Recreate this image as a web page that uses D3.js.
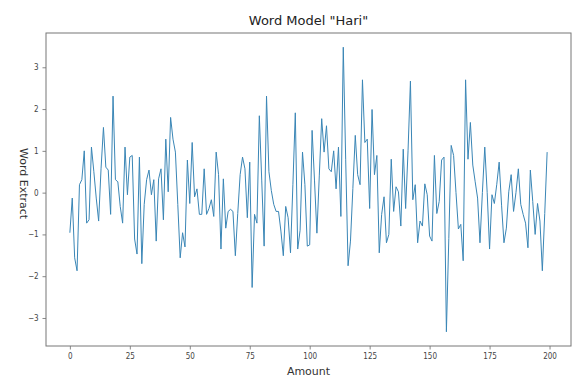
<!DOCTYPE html>
<html>
<head>
<meta charset="utf-8">
<script src="https://cdn.jsdelivr.net/npm/d3@7"></script>
<style>
  body { margin: 0; background: #fff; }
  svg { display: block; }
</style>
</head>
<body>
<div id="chart"></div>
<script>
// values, index 0..199
const values = [
  -0.96, -0.13, -1.56, -1.87, 0.19, 0.31, 1.0, -0.73, -0.65, 1.09,
  0.5, -0.13, -0.68, 0.57, 1.56, 0.61, 0.54, -0.52, 2.31, 0.31,
  0.26, -0.33, -0.73, 1.09, -0.05, 0.85, 0.89, -1.11, -1.47, 0.85,
  -1.7, -0.28, 0.31, 0.54, -0.05, 0.31, -1.16, 0.33, 0.57, -0.65,
  1.28, 0.02, 1.8, 1.28, 0.97, -0.28, -1.56, -0.96, -1.3, 0.78,
  -0.26, 1.2, -0.1, 0.09, -0.52, -0.52, 0.57, -0.52, -0.38, -0.17,
  -0.57, 0.97, 0.43, -1.35, 0.33, -0.85, -0.45, -0.4, -0.45, -1.51,
  -0.5, 0.43, 0.85, 0.57, -0.6, 0.73, -2.27, -0.52, -0.73, 1.84,
  0.3, -1.28, 2.31, 0.5, 0.05, -0.28, -0.45, -0.45, -0.92, -1.51,
  -0.33, -0.6, -1.44, 0.2, 1.91, -1.35, -0.9, 0.97, 0.19, -1.28,
  -1.25, 1.49, 0.3, -0.97, 0.4, 1.77, 0.97, 1.6, 0.57, 0.5,
  1.0, 0.09, 1.09, -0.57, 3.48, 0.8, -1.75, -1.16, 0.1, 1.37,
  0.43, 0.19, 2.7, 1.2, 1.28, -0.38, 1.99, 0.43, 0.89, -1.44,
  -0.52, -0.1, -1.2, -1.0, 0.8, -0.45, 0.14, 0.02, -0.8, 1.04,
  -0.38, 1.0, 2.67, -0.17, 0.19, -1.2, -0.68, -0.8, 0.21, -0.05,
  -1.04, -1.16, 0.89, -0.5, -0.21, 0.78, 0.85, -3.33, -1.1, 1.13,
  0.89, 0.0, -0.87, -0.76, -1.63, 2.7, 0.8, 1.68, 0.66, 0.26,
  -0.13, -1.2, 0.0, 1.09, 0.0, -1.35, -0.05, -0.26, 0.2, 0.73,
  -0.3, -1.2, -0.85, 0.02, 0.43, -0.45, 0.0, 0.57, -0.28, -0.52,
  -0.73, -1.32, 0.54, -0.21, -1.0, -0.26, -0.68, -1.87, -0.5, 0.97
];
const xTicks = [0, 25, 50, 75, 100, 125, 150, 175, 200];
const yTicks = [-3, -2, -1, 0, 1, 2, 3];

const W = 576, H = 378;
const margin = { top: 33, right: 5, bottom: 32, left: 46 };
const width = W - margin.left - margin.right;
const height = H - margin.top - margin.bottom;

const svg = d3.select("#chart").append("svg")
  .attr("width", W)
  .attr("height", H);

const g = svg.append("g")
  .attr("transform", `translate(${margin.left},${margin.top})`);

// matplotlib style 5% padding
const n = values.length;
const xPad = (n - 1) * 0.05;
const x = d3.scaleLinear()
  .domain([-xPad, n - 1 + xPad])
  .range([0, width]);

const yMin = d3.min(values), yMax = d3.max(values);
const yPad = (yMax - yMin) * 0.05;
const y = d3.scaleLinear()
  .domain([yMin - yPad, yMax + yPad])
  .range([height, 0]);

const tickFont = "'DejaVu Sans Condensed', 'DejaVu Sans', sans-serif";

const xAxis = g.append("g")
  .attr("transform", `translate(0,${height})`)
  .call(d3.axisBottom(x).tickValues(xTicks).tickSize(3.5).tickPadding(4));

const yAxis = g.append("g")
  .call(d3.axisLeft(y).tickValues(yTicks).tickSize(3.5).tickPadding(4));

[xAxis, yAxis].forEach(ax => {
  ax.select(".domain").remove();
  ax.selectAll(".tick line").attr("stroke", "#888");
  ax.selectAll(".tick text")
    .attr("fill", "#444")
    .style("font-family", tickFont)
    .style("font-size", "8px");
});

// the series line
const line = d3.line()
  .x((d, i) => x(i))
  .y(d => y(d));

g.append("path")
  .datum(values)
  .attr("fill", "none")
  .attr("stroke", "#3a86b6")
  .attr("stroke-width", 1)
  .attr("stroke-linejoin", "round")
  .attr("d", line);

// frame
g.append("rect")
  .attr("width", width)
  .attr("height", height)
  .attr("fill", "none")
  .attr("stroke", "#777")
  .attr("stroke-width", 1);

// title
svg.append("text")
  .attr("x", margin.left + width / 2)
  .attr("y", 25)
  .attr("text-anchor", "middle")
  .style("font-family", "'DejaVu Sans', sans-serif")
  .style("font-size", "13px")
  .attr("fill", "#222")
  .text('Word Model "Hari"');

// axis labels
svg.append("text")
  .attr("x", margin.left + width / 2)
  .attr("y", 375)
  .attr("text-anchor", "middle")
  .style("font-family", "'DejaVu Sans', sans-serif")
  .style("font-size", "11px")
  .attr("fill", "#333")
  .text("Amount");

svg.append("text")
  .attr("transform", `translate(20,${margin.top + height / 2 - 6}) rotate(90)`)
  .attr("text-anchor", "middle")
  .style("font-family", "'DejaVu Sans', sans-serif")
  .style("font-size", "11px")
  .attr("fill", "#333")
  .text("Word Extract");
</script>
</body>
</html>
